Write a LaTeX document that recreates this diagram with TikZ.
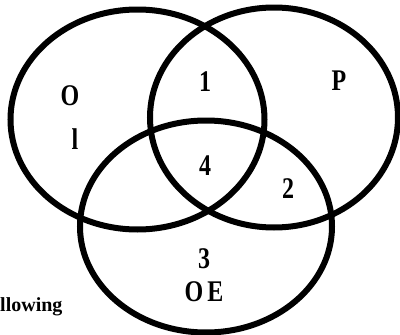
\documentclass[tikz,border=0pt]{standalone}
\usepackage{fontspec}
\setmainfont{Liberation Serif}
\begin{document}
\begin{tikzpicture}[x=1pt,y=-1pt,
  ring/.style={line width=6pt,black},
  lab/.style={font=\bfseries\fontsize{24}{24}\selectfont,inner sep=0pt,yscale=1.25,transform shape}]
\useasboundingbox (0,0) rectangle (400,335);
\draw[ring] (137.5,119.5) ellipse [x radius=127pt, y radius=110pt];
\draw[ring] (274,117.5) ellipse [x radius=124pt, y radius=110pt];
\draw[ring] (206,226.5) ellipse [x radius=126pt, y radius=106pt];
\node[lab] (o) at (70,96) {O};
\node[lab] (l) at (75,139) {l};
\node[lab] (one) at (205,82) {1};
\node[lab] (p) at (339,81) {P};
\node[lab] (four) at (205,166) {4};
\node[lab] (two) at (288,189) {2};
\node[lab] (three) at (204,259) {3};
\node[lab] (oe) at (204,292) {O\hspace{4pt}E};
\node[font=\bfseries\fontsize{20}{20}\selectfont,inner sep=0pt,anchor=base west] (fol) at (0,311) {llowing};
\end{tikzpicture}
\end{document}
